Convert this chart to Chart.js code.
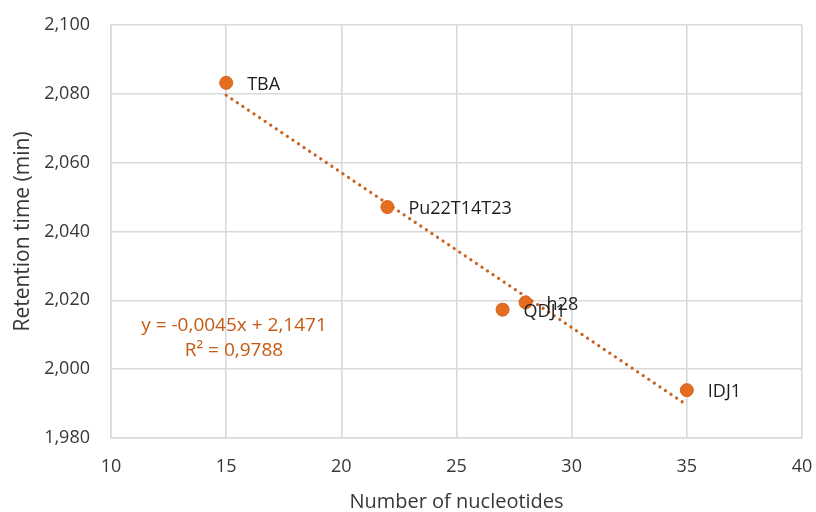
<!DOCTYPE html>
<html>
<head>
<meta charset="utf-8">
<title>Retention time vs number of nucleotides</title>
<script src="https://cdn.jsdelivr.net/npm/chart.js@4.4.1/dist/chart.umd.min.js"></script>
<style>
  html, body { margin: 0; padding: 0; background: #ffffff; }
  #wrap { width: 816px; height: 512px; position: relative; }
</style>
</head>
<body>
<div id="wrap"><canvas id="chart" width="816" height="512"></canvas></div>
<script>
// Oligonucleotides: length vs retention time
const names = ['TBA', 'Pu22T14T23', 'QDJ1', 'h28', 'IDJ1'];
const nucleotides = [15, 22, 27, 28, 35];
const retention = [2.0832, 2.0471, 2.0173, 2.0194, 1.9939];

// Linear trendline as reported in the equation label
const slope = -0.0045;
const intercept = 2.1471;
const rSquared = 0.9788;
const fitRange = [15, 35];

const xTicks = [10, 15, 20, 25, 30, 35, 40];
const yTicks = [1.98, 2.00, 2.02, 2.04, 2.06, 2.08, 2.10];

const FONT = '"Open Sans", "Noto Sans", sans-serif';
const ORANGE = '#E46D1E';
const TREND = '#C9631F';
const GRID = '#d9d9d9';
const TEXT = '#383838';

const fmt = (v, d) => v.toFixed(d).replace('.', ',');

const points = nucleotides.map((x, i) => ({ x, y: retention[i] }));
const trend = fitRange.map(x => ({ x, y: slope * x + intercept }));

// Point labels to the right of each marker, plus the trendline equation
const labelPlugin = {
  id: 'pointLabels',
  afterDatasetsDraw(chart) {
    const ctx = chart.ctx;
    const meta = chart.getDatasetMeta(0);
    ctx.save();
    ctx.font = '18px ' + FONT;
    ctx.fillStyle = '#1e1e1e';
    ctx.textAlign = 'left';
    ctx.textBaseline = 'middle';
    meta.data.forEach((el, i) => {
      ctx.fillText(names[i], el.x + 21, el.y + 2);
    });

    const xs = chart.scales.x, ys = chart.scales.y;
    const ex = xs.getPixelForValue(15.34);
    const ey = ys.getPixelForValue(2.0128);
    ctx.font = '19px ' + FONT;
    ctx.fillStyle = '#C65A12';
    ctx.textAlign = 'center';
    const sign = intercept >= 0 ? ' + ' : ' - ';
    ctx.fillText('y = ' + fmt(slope, 4) + 'x' + sign + fmt(Math.abs(intercept), 4), ex, ey);
    ctx.fillText('R\u00B2 = ' + fmt(rSquared, 4), ex, ey + 25);
    ctx.restore();
  }
};

new Chart(document.getElementById('chart'), {
  type: 'scatter',
  data: {
    datasets: [
      {
        label: 'Retention time',
        data: points,
        pointRadius: 6.5,
        pointHoverRadius: 6.5,
        backgroundColor: ORANGE,
        borderColor: '#D4611A',
        borderWidth: 1
      },
      {
        label: 'Linear trend',
        data: trend,
        showLine: true,
        pointRadius: 0,
        borderColor: TREND,
        borderWidth: 3.2,
        borderDash: [0.1, 6.6],
        borderCapStyle: 'round',
        fill: false
      }
    ]
  },
  options: {
    responsive: false,
    animation: false,
    layout: { padding: { top: 25, right: 14, bottom: 0, left: 0 } },
    plugins: {
      legend: { display: false },
      tooltip: { enabled: false }
    },
    scales: {
      x: {
        type: 'linear',
        min: xTicks[0],
        max: xTicks[xTicks.length - 1],
        afterBuildTicks: s => { s.ticks = xTicks.map(v => ({ value: v })); },
        afterFit: s => { s.height = 74; s.paddingLeft = 0; s.paddingRight = 0; },
        grid: { color: GRID, lineWidth: 1.6, drawTicks: false },
        border: { display: true, color: GRID, width: 1.6 },
        ticks: {
          padding: 18,
          color: TEXT,
          font: { family: FONT, size: 18 },
          callback: v => String(v)
        },
        title: {
          display: true,
          text: 'Number of nucleotides',
          color: TEXT,
          font: { family: FONT, size: 20, lineHeight: 1 },
          padding: { top: 0, bottom: 0 }
        }
      },
      y: {
        type: 'linear',
        min: yTicks[0],
        max: yTicks[yTicks.length - 1],
        afterBuildTicks: s => { s.ticks = yTicks.map(v => ({ value: v })); },
        afterFit: s => { s.width = 111; s.paddingTop = 0; s.paddingBottom = 0; },
        grid: { color: GRID, lineWidth: 1.6, drawTicks: false },
        border: { display: true, color: GRID, width: 1.6 },
        ticks: {
          padding: 21,
          color: TEXT,
          font: { family: FONT, size: 18 },
          callback: v => fmt(v, 3)
        },
        title: {
          display: true,
          text: 'Retention time (min)',
          color: TEXT,
          font: { family: FONT, size: 21, lineHeight: 1 },
          padding: { top: 13, bottom: 0 }
        }
      }
    }
  },
  plugins: [labelPlugin]
});
</script>
</body>
</html>
